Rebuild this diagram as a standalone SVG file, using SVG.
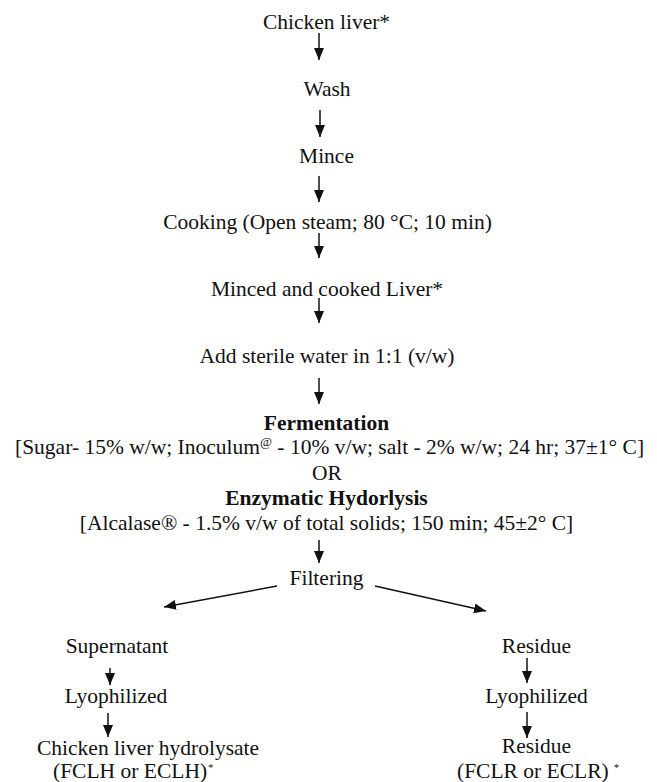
<svg xmlns="http://www.w3.org/2000/svg" width="657" height="782" viewBox="0 0 657 782">
<style>
text{font-family:"Liberation Serif","Times New Roman",serif;font-size:21.5px;fill:#111;}
.c{text-anchor:middle;}
.b{font-weight:bold;}
.sup{font-size:13px;}
.ast{font-size:11px;}
.conn line{stroke:#111;stroke-width:1.5;fill:none;marker-end:url(#ah);}
</style>
<defs>
<marker id="ah" markerUnits="userSpaceOnUse" markerWidth="12" markerHeight="10" refX="12" refY="5" orient="auto" viewBox="0 0 12 10">
<path d="M0,0 L12,5 L0,10 z" fill="#111"/>
</marker>
</defs>
<rect width="657" height="782" fill="#fff"/>
<g id="n1"><text class="c" x="326.5" y="29">Chicken liver*</text></g>
<g id="n2"><text class="c" x="327" y="96">Wash</text></g>
<g id="n3"><text class="c" x="326.5" y="163">Mince</text></g>
<g id="n4"><text class="c" x="327.5" y="229">Cooking (Open steam; 80 °C; 10 min)</text></g>
<g id="n5"><text class="c" x="327" y="296">Minced and cooked Liver*</text></g>
<g id="n6"><text class="c" x="327" y="363">Add sterile water in 1:1 (v/w)</text></g>
<g id="n7">
<text class="c b" x="326.5" y="430">Fermentation</text>
<text x="15" y="454">[Sugar- 15% w/w; Inoculum<tspan class="sup" dy="-8">@</tspan><tspan dy="8"> - 10% v/w; salt - 2% w/w; 24 hr; 37±1° C]</tspan></text>
<text class="c" x="327" y="480">OR</text>
<text class="c b" x="326.5" y="505">Enzymatic Hydorlysis</text>
<text class="c" x="326.5" y="530">[Alcalase® - 1.5% v/w of total solids; 150 min; 45±2° C]</text>
</g>
<g id="n8"><text class="c" x="326.5" y="585">Filtering</text></g>
<g id="n9"><text class="c" x="117" y="653">Supernatant</text></g>
<g id="n10"><text class="c" x="116" y="703">Lyophilized</text></g>
<g id="n11">
<text x="37" y="755">Chicken liver hydrolysate</text>
<text x="53" y="778">(FCLH or ECLH)<tspan class="ast" dx="1" dy="-7">*</tspan></text>
</g>
<g id="n12"><text class="c" x="536.5" y="653">Residue</text></g>
<g id="n13"><text class="c" x="536.5" y="703">Lyophilized</text></g>
<g id="n14">
<text class="c" x="536.5" y="753">Residue</text>
<text x="457" y="778">(FCLR or ECLR)<tspan class="ast" dx="5" dy="-7">*</tspan></text>
</g>
<g id="connectors" class="conn">
<line x1="319" y1="33" x2="319" y2="60"/>
<line x1="320" y1="110" x2="320" y2="137"/>
<line x1="319" y1="176" x2="319" y2="202"/>
<line x1="319" y1="233" x2="319" y2="258"/>
<line x1="319" y1="298" x2="319" y2="323"/>
<line x1="319" y1="378" x2="319" y2="404"/>
<line x1="319" y1="540" x2="319" y2="563"/>
<line x1="277" y1="586" x2="164" y2="607"/>
<line x1="375" y1="586" x2="486" y2="611"/>
<line x1="110" y1="668" x2="110" y2="685"/>
<line x1="108" y1="713" x2="108" y2="737"/>
<line x1="527" y1="658" x2="527" y2="683"/>
<line x1="527" y1="712" x2="527" y2="738"/>
</g>
</svg>
